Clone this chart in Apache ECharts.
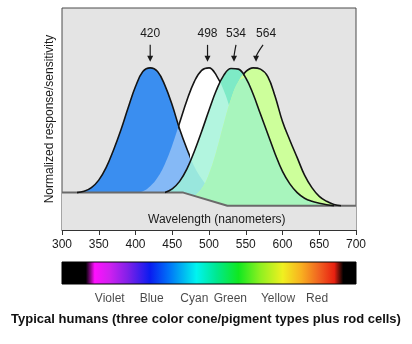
<!DOCTYPE html>
<html>
<head>
<meta charset="utf-8">
<script src="https://cdn.jsdelivr.net/npm/echarts@6/dist/echarts.min.js"></script>
<style>
  html, body { margin: 0; padding: 0; background: #fff; }
  #chart { width: 412px; height: 344px; }
</style>
</head>
<body>
<div id="chart"></div>
<script>
// Sampling grid (nm)
const wavelengths = [300,310,320,330,340,350,360,370,380,390,400,410,420,430,440,450,460,470,480,490,
                     500,510,520,530,540,550,560,570,580,590,600,610,620,630,640,650,660,670,680,690,700];

// Normalized response of each pigment on the grid (null = outside the curve)
const sCone = [null,null,0,0.01,0.04,0.10,0.20,0.34,0.50,0.68,0.85,0.97,1.0,0.97,0.86,0.70,0.51,0.35,0.21,0.11,
               0.03,-0.06,-0.1,null,null,null,null,null,null,null,null,null,null,null,null,null,null,null,null,null,null];
const rod   = [null,null,null,null,null,null,null,null,null,null,0,0.01,0.05,0.12,0.23,0.38,0.56,0.74,0.89,0.98,
               1.0,0.94,0.82,0.65,0.47,0.32,0.18,0.08,0.0,-0.06,-0.1,null,null,null,null,null,null,null,null,null,null];
const mCone = [null,null,null,null,null,null,null,null,null,null,null,null,null,null,0,0.03,0.09,0.19,0.33,0.49,
               0.66,0.82,0.94,0.995,0.99,0.92,0.79,0.63,0.47,0.31,0.17,0.07,0.0,-0.045,-0.07,-0.085,-0.097,-0.105,null,null,null];
const lCone = [null,null,null,null,null,null,null,null,null,null,null,null,null,null,null,null,null,null,-0.03,0.03,
               0.15,0.33,0.55,0.75,0.89,0.97,1.0,0.99,0.93,0.77,0.57,0.42,0.28,0.14,0.04,-0.03,-0.07,-0.095,-0.105,null,null];

// Rod-cell baseline that the curves sit on
const baseline = [[300,0],[465,0],[525,-0.105],[700,-0.105]];

// Peak wavelengths (nm)
const peaks = [420, 498, 534, 564];

// Wavelength span over which each curve gets a dark outline
const sOutline = [320, 474];
const rodOutline = [458, 515];
const mOutline = [440, 670];
const lOutline = [546, 680];

// Visible spectrum strip
const spectrumNm = [300,333,345,365,390,420,445,470,483,510,540,570,600,625,650,670,682,700];
const spectrumColors = ['#000000','#000000','#ff10ff','#d020f0','#8020e8','#0a1cf0','#0070f8','#00c8f0','#00f4f0',
                        '#00e890','#10e820','#90f020','#f0f020','#f8b020','#f06020','#e82010','#000000','#000000'];
const colorNames = ['Violet','Blue','Cyan','Green','Yellow','Red'];
const colorNameNm = [365, 422, 480, 529, 594, 647];

const FONT = 'Liberation Sans, Arial, Helvetica, sans-serif';
const INK = '#1a1a1a';

function pairs(values) {
  const out = [];
  values.forEach((v, i) => { if (v !== null) out.push([wavelengths[i], v]); });
  return out;
}
const overlapML = mCone.map((v, i) => (v === null || lCone[i] === null) ? null : Math.min(v, lCone[i]));

function fillSeries(values, color, z) {
  return {
    type: 'line', data: pairs(values), smooth: 0.4, showSymbol: false, silent: true, z: z,
    lineStyle: { width: 0, opacity: 0 },
    areaStyle: { origin: 'start', color: color, opacity: 1 }
  };
}
// stroke colour comes from the visualMap band of each outline
function outlineSeries(values, z) {
  return {
    type: 'line', data: pairs(values), smooth: 0.4, showSymbol: false, silent: true, z: z,
    lineStyle: { width: 1.6 }
  };
}

// Per-label style tweaks for the peak annotations
const labelShift = [0, 0, 2, 10];
const arrowBend = [0, 0, 2, 7];

function renderPeak(params, api) {
  const i = params.dataIndex;
  const p = api.coord([api.value(0), api.value(1)]);
  const x = p[0];
  const tipY = p[1] - 6;
  const topY = p[1] - 23;
  const tail = x + arrowBend[i];
  return {
    type: 'group',
    children: [
      { type: 'text', style: { text: String(api.value(0)), x: x + labelShift[i], y: p[1] - 34,
          align: 'center', verticalAlign: 'middle', font: '12px ' + FONT, fill: INK } },
      { type: 'bezierCurve', shape: { x1: tail, y1: topY, cpx1: x + arrowBend[i] * 0.1, cpy1: topY + 9, x2: x, y2: tipY - 5 },
        style: { stroke: INK, lineWidth: 1.2, fill: null } },
      { type: 'polygon', shape: { points: [[x - 3, tipY - 6], [x + 3, tipY - 6], [x, tipY]] }, style: { fill: INK } }
    ]
  };
}

function renderSpectrum(params, api) {
  const a = api.coord([spectrumNm[0], 1]);
  const b = api.coord([spectrumNm[spectrumNm.length - 1], 0]);
  const span = spectrumNm[spectrumNm.length - 1] - spectrumNm[0];
  const stops = spectrumNm.map((nm, i) => ({ offset: (nm - spectrumNm[0]) / span, color: spectrumColors[i] }));
  return {
    type: 'rect',
    shape: { x: a[0], y: a[1], width: b[0] - a[0], height: b[1] - a[1] },
    style: { fill: { type: 'linear', x: 0, y: 0, x2: 1, y2: 0, colorStops: stops }, stroke: '#000', lineWidth: 1 }
  };
}

function band(span, seriesIndex) {
  return {
    type: 'piecewise', show: false, dimension: 0, seriesIndex: seriesIndex,
    pieces: [{ gte: span[0], lte: span[1], color: '#141414' }],
    outOfRange: { color: 'rgba(0,0,0,0)' }
  };
}

const chart = echarts.init(document.getElementById('chart'), null, { renderer: 'canvas' });
chart.setOption({
  animation: false,
  textStyle: { fontFamily: FONT },
  title: {
    text: 'Typical humans (three color cone/pigment types plus rod cells)',
    left: 'center', top: 308,
    textStyle: { fontSize: 13, fontWeight: 'bold', color: '#111', fontFamily: FONT }
  },
  graphic: [
    { type: 'text', left: 148, top: 214, z: 20, silent: true,
      style: { text: 'Wavelength (nanometers)', font: '12px ' + FONT, fill: INK } }
  ],
  grid: [
    { left: 62, right: 56, top: 8, bottom: 114, show: true, backgroundColor: '#e4e4e4', borderColor: '#4a4a4a', borderWidth: 1 },
    { left: 62, right: 56, top: 262, height: 22 }
  ],
  xAxis: [
    {
      type: 'value', gridIndex: 0, min: 300, max: 700, interval: 50,
      axisLine: { show: true, onZero: false, lineStyle: { color: '#333', width: 1 } },
      axisTick: { show: true, length: 5, lineStyle: { color: '#333' } },
      axisLabel: { fontSize: 12, color: INK, margin: 9 },
      splitLine: { show: false }
    },
    { type: 'value', gridIndex: 1, min: 300, max: 700, show: false }
  ],
  yAxis: [
    {
      type: 'value', gridIndex: 0, min: -0.3, max: 1.48,
      name: 'Normalized response/sensitivity', nameLocation: 'middle', nameGap: 6,
      nameTextStyle: { fontSize: 12, color: INK },
      axisLine: { show: false }, axisTick: { show: false }, axisLabel: { show: false }, splitLine: { show: false }
    },
    { type: 'value', gridIndex: 1, min: 0, max: 1, show: false }
  ],
  visualMap: [band(sOutline, 7), band(rodOutline, 8), band(mOutline, 9), band(lOutline, 10)],
  series: [
    fillSeries(rod, '#ffffff', 1),                      // 0 rod body
    fillSeries(sCone, '#3a8ef0', 2),                    // 1 S cone
    fillSeries(mCone, 'rgba(100,235,190,0.8)', 3),      // 2 M cone
    fillSeries(rod, 'rgba(255,255,255,0.38)', 4),       // 3 rod veil
    fillSeries(lCone, '#cdff9b', 5),                    // 4 L cone
    fillSeries(overlapML, '#a8f5bd', 6),                // 5 M/L overlap
    {                                                   // 6 baseline
      type: 'line', data: baseline, showSymbol: false, silent: true, z: 7,
      lineStyle: { color: '#6a6a6a', width: 2 },
      areaStyle: { origin: 'start', color: '#e4e4e4', opacity: 1 }
    },
    outlineSeries(sCone, 8),                            // 7
    outlineSeries(rod, 8),                              // 8
    outlineSeries(mCone, 8),                            // 9
    outlineSeries(lCone, 8),                            // 10
    {
      type: 'custom', xAxisIndex: 0, yAxisIndex: 0, z: 9, silent: true, clip: false,
      data: peaks.map(p => [p, 1]), renderItem: renderPeak
    },
    {
      type: 'custom', xAxisIndex: 1, yAxisIndex: 1, z: 3, silent: true, clip: false,
      data: [[spectrumNm[0], 0]], renderItem: renderSpectrum
    },
    {
      type: 'scatter', xAxisIndex: 1, yAxisIndex: 1, z: 4, silent: true, clip: false,
      symbolSize: 1, itemStyle: { color: 'rgba(0,0,0,0)' },
      data: colorNames.map((n, i) => ({ name: n, value: [colorNameNm[i], 0] })),
      label: { show: true, position: 'bottom', distance: 8, formatter: '{b}', fontSize: 12, color: INK, fontFamily: FONT }
    }
  ]
});
</script>
</body>
</html>
